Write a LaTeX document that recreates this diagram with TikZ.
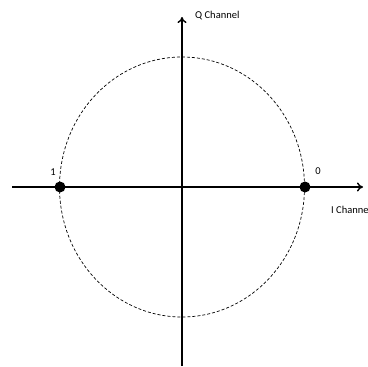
\documentclass[tikz,border=0pt]{standalone}
\usepackage{fontspec}
\setmainfont{Carlito}
\usetikzlibrary{arrows.meta}
\definecolor{IQLine}{HTML}{000000}

\begin{document}
\begin{tikzpicture}[x=1pt,y=-1pt]
\path[use as bounding box] (0,0) rectangle (367,367);
\coordinate (o) at (182,187);
\coordinate (iStart) at (12,187);
\coordinate (iEnd) at (363,187);
\coordinate (qStart) at (182,366);
\coordinate (qEnd) at (182,17);
\draw[IQLine,dashed,line width=0.7pt,dash pattern=on 3pt off 2pt] (o) ellipse [x radius=122.5,y radius=130];
\draw[IQLine,line width=1.4pt,-{To[length=6pt,width=9pt]}] (iStart) -- (iEnd);
\draw[IQLine,line width=1.4pt,-{To[length=6pt,width=9pt]}] (qStart) -- (qEnd);
\node[circle,fill=IQLine,inner sep=0pt,minimum size=11pt] (sym1) at (60,187) {};
\node[circle,fill=IQLine,inner sep=0pt,minimum size=11pt] (sym0) at (305,187) {};
\node[font=\fontsize{10.5}{12}\selectfont] (lab1) at (53,172) {1};
\node[font=\fontsize{10.5}{12}\selectfont] (lab0) at (318,171) {0};
\node[anchor=west,inner sep=0pt,font=\fontsize{10.5}{12}\selectfont] (qlab) at (195,16) {Q Channel};
\node[anchor=west,inner sep=0pt,font=\fontsize{10.5}{12}\selectfont] (ilab) at (331,210) {I Channel};
\end{tikzpicture}
\end{document}
